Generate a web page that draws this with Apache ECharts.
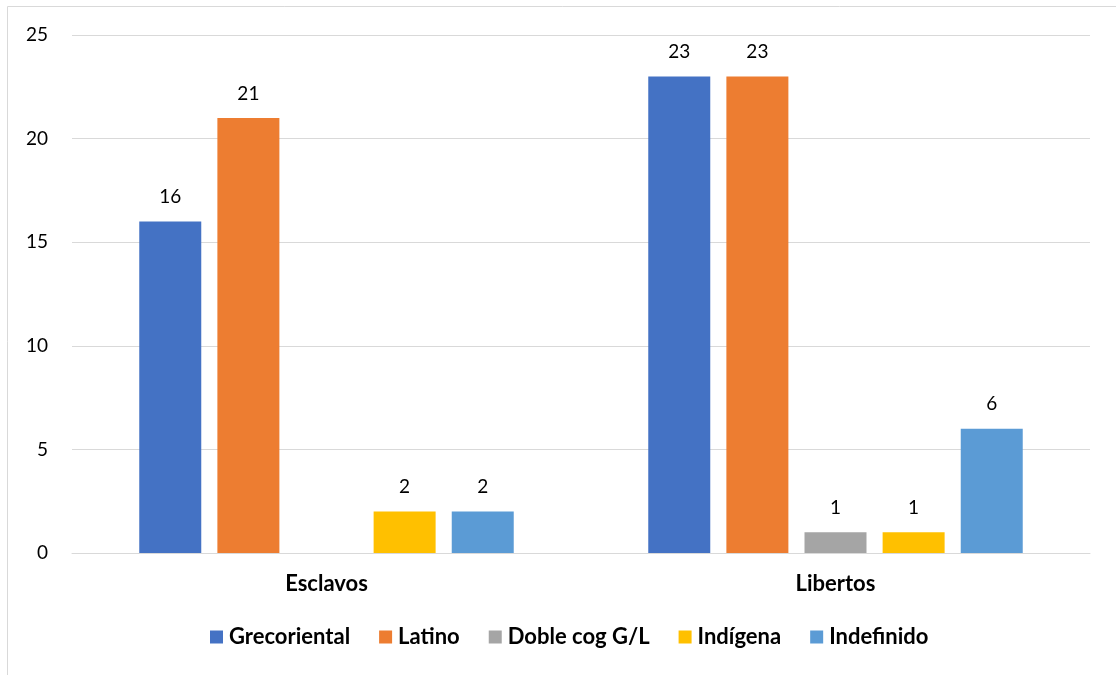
<!DOCTYPE html>
<html>
<head>
<meta charset="utf-8">
<script src="https://cdn.jsdelivr.net/npm/echarts@6/dist/echarts.min.js"></script>
<style>
  html, body { margin: 0; padding: 0; background: #fff; }
  #chart { width: 1116px; height: 675px; }
</style>
</head>
<body>
<div id="chart"></div>
<script>
// Categories and series values
const categories = ['Esclavos', 'Libertos'];
const seriesNames = ['Grecoriental', 'Latino', 'Doble cog G/L', 'Indígena', 'Indefinido'];
const grecoriental = [16, 23];
const latino = [21, 23];
const dobleCog = [null, 1];
const indigena = [2, 1];
const indefinido = [2, 6];
const yTicks = [0, 5, 10, 15, 20, 25];

const colors = ['#4472C4', '#ED7D31', '#A5A5A5', '#FFC000', '#5B9BD5'];
const values = [grecoriental, latino, dobleCog, indigena, indefinido];
const FONT = 'Lato';

const chart = echarts.init(document.getElementById('chart'));
chart.setOption({
  animation: false,
  textStyle: { fontFamily: FONT },
  graphic: [{
    type: 'rect',
    shape: { x: 7.5, y: 6.5, width: 1300, height: 900 },
    style: { fill: 'none', stroke: '#D9D9D9', lineWidth: 1 },
    silent: true
  }],
  grid: { left: 72, right: 26, top: 35, bottom: 122 },
  legend: {
    bottom: 22,
    left: 205,
    itemWidth: 13,
    itemHeight: 13,
    itemGap: 29,
    icon: 'rect',
    textStyle: { fontFamily: FONT, fontSize: 22, fontWeight: 'bold', color: '#000', padding: [0, 0, 0, 1] },
    data: seriesNames
  },
  xAxis: {
    type: 'category',
    data: categories,
    axisLine: { lineStyle: { color: '#D9D9D9', width: 1 } },
    axisTick: { show: false },
    axisLabel: { fontFamily: FONT, fontSize: 22, fontWeight: 'bold', color: '#000', margin: 20 }
  },
  yAxis: {
    type: 'value',
    min: yTicks[0],
    max: yTicks[yTicks.length - 1],
    interval: 5,
    axisLine: { show: false },
    axisTick: { show: false },
    splitLine: { lineStyle: { color: '#D9D9D9', width: 1 } },
    axisLabel: { fontFamily: FONT, fontSize: 19, color: '#000', margin: 24 }
  },
  series: seriesNames.map((name, i) => ({
    name: name,
    type: 'bar',
    data: values[i],
    barWidth: 62,
    barGap: '26%',
    itemStyle: { color: colors[i] },
    label: {
      show: true,
      position: 'top',
      distance: 15,
      fontFamily: FONT,
      fontSize: 19,
      color: '#000'
    }
  }))
});
</script>
</body>
</html>
